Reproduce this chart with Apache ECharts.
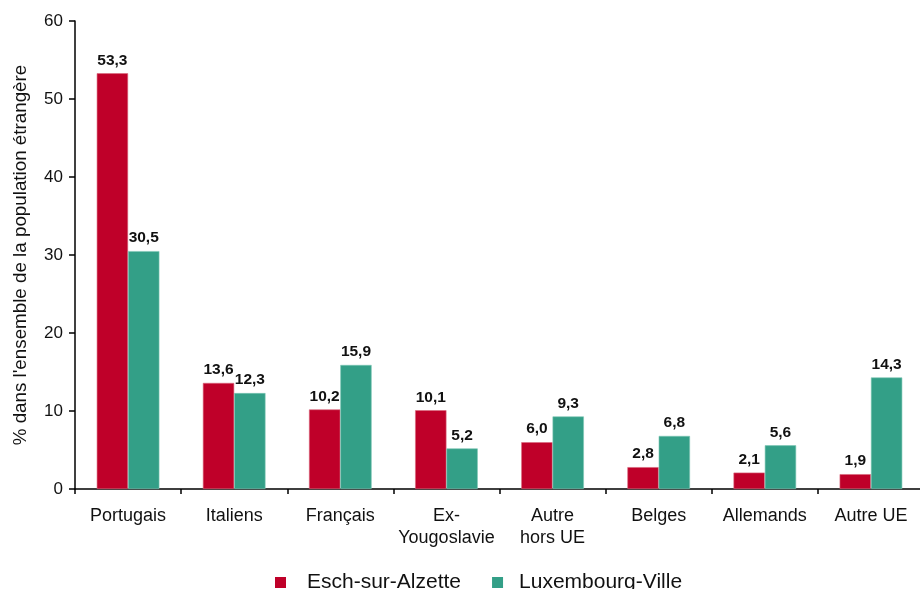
<!DOCTYPE html>
<html><head><meta charset="utf-8">
<script src="https://cdn.jsdelivr.net/npm/echarts@6/dist/echarts.min.js"></script>
<style>html,body{margin:0;padding:0;background:#fff}#c{width:920px;height:589px}</style>
</head><body><div id="c"></div>
<script>
const categories = ["Portugais","Italiens","Français","Ex-\nYougoslavie","Autre\nhors UE","Belges","Allemands","Autre UE"];
const seriesNames = ["Esch-sur-Alzette","Luxembourg-Ville"];
const eschValues = [53.3,13.6,10.2,10.1,6.0,2.8,2.1,1.9];
const luxValues = [30.5,12.3,15.9,5.2,9.3,6.8,5.6,14.3];
const yTicks = {min:0,max:60,interval:10};
const yAxisTitle = "% dans l'ensemble de la population étrangère";

const font = "'Liberation Sans', Arial, sans-serif";
const chart = echarts.init(document.getElementById('c'), null, {renderer:'canvas'});
const lbl = {show:true,position:'top',distance:5,fontFamily:font,fontSize:15.5,fontWeight:'bold',color:'#111',
  formatter:p=>p.value.toFixed(1).replace('.',',')};
chart.setOption({
  animation:false,
  grid:{left:75,top:21,width:849,height:468,containLabel:false,outerBoundsMode:'none'},
  legend:{top:567,left:270,itemWidth:11,itemHeight:11,itemGap:31,icon:'rect',
    itemStyle:{borderWidth:0},
    textStyle:{fontFamily:font,fontSize:21,color:'#111'},
    data:[{name:seriesNames[0],textStyle:{padding:[0,0,0,16]}},
          {name:seriesNames[1],textStyle:{padding:[0,0,0,11]}}]},
  xAxis:{type:'category',data:categories,
    axisLine:{lineStyle:{color:'#000',width:1.5}},
    axisTick:{show:true,alignWithLabel:false,length:5,lineStyle:{color:'#000',width:1.5}},
    axisLabel:{interval:0,fontFamily:font,fontSize:18,color:'#111',margin:16,lineHeight:22}},
  yAxis:{type:'value',min:yTicks.min,max:yTicks.max,interval:yTicks.interval,
    name:yAxisTitle,nameLocation:'middle',nameGap:45,nameRotate:90,
    nameTextStyle:{fontFamily:font,fontSize:18.8,color:'#111'},
    axisLine:{show:true,lineStyle:{color:'#000',width:1.5}},
    axisTick:{show:true,length:6,lineStyle:{color:'#000',width:1.5}},
    splitLine:{show:false},
    axisLabel:{fontFamily:font,fontSize:17,color:'#111',margin:12}},
  series:[
    {name:seriesNames[0],type:'bar',data:eschValues,barGap:'0%',barCategoryGap:'41%',
     itemStyle:{color:'#BF0029',borderColor:'#D9687E',borderWidth:0.6},label:lbl},
    {name:seriesNames[1],type:'bar',data:luxValues,
     itemStyle:{color:'#339F87',borderColor:'#7CC6B4',borderWidth:0.6},label:lbl}
  ]
});
</script></body></html>
